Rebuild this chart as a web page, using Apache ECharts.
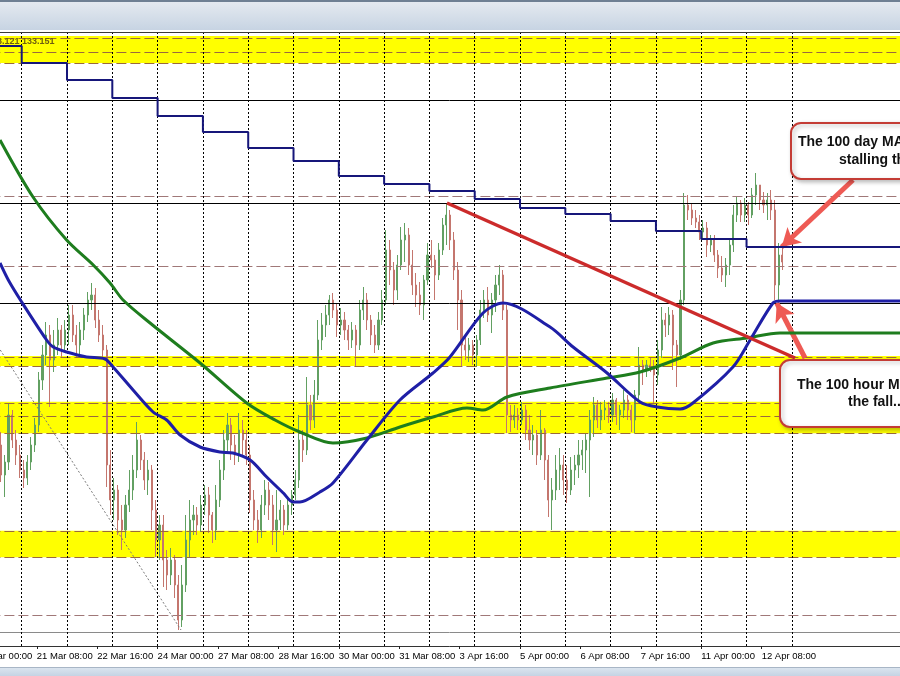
<!DOCTYPE html>
<html><head><meta charset="utf-8">
<script src="https://cdn.jsdelivr.net/npm/echarts@6/dist/echarts.min.js"></script>
<style>html,body{margin:0;padding:0;background:#fff}#c{width:900px;height:676px}</style>
</head><body><div id="c"></div>
<script>
// x axis: trading hours counted from 20 Mar 00:00 (weekends skipped), hourly chart
const tickLabels = ["20 Mar 00:00","21 Mar 08:00","22 Mar 16:00","24 Mar 00:00","27 Mar 08:00","28 Mar 16:00","30 Mar 00:00","31 Mar 08:00","3 Apr 16:00","5 Apr 00:00","6 Apr 08:00","7 Apr 16:00","11 Apr 00:00","12 Apr 08:00"];
const labelStepHours = 32;
const dayStarts = [24,48,72,96,120,144,168,192,216,240,264,288,312,336,360,384,408,432];
const firstBarHour = 13;   // 2-hour bars
const barHours = 2;
// [open, close, low, high]
const candles = [
[131.55,131.25,131.18,131.68],[131.25,131.38,131.03,131.45],[131.38,131.85,131.30,131.97],[131.85,131.60,131.52,131.90],
[131.60,131.45,131.35,131.70],[131.45,131.30,131.22,131.55],[131.30,131.22,131.12,131.40],[131.22,131.38,131.15,131.45],
[131.38,131.55,131.30,131.63],[131.55,131.75,131.48,131.82],[131.75,132.20,131.68,132.28],[132.20,132.45,132.10,132.55],
[132.45,132.65,132.35,132.78],[132.65,132.40,131.93,132.75],[132.40,132.55,132.28,132.70],[132.55,132.70,132.45,132.82],
[132.70,132.55,132.42,132.75],[132.55,132.70,132.48,132.80],[132.70,132.85,132.55,132.95],[132.85,132.65,132.58,132.95],
[132.65,132.55,132.43,132.75],[132.55,132.70,132.45,132.78],[132.70,132.85,132.60,132.92],[132.85,133.00,132.78,133.08],
[133.00,133.05,132.90,133.17],[133.05,132.80,132.72,133.12],[132.80,132.65,132.58,132.90],[132.65,132.50,132.42,132.75],
[132.50,131.35,131.13,132.55],[131.35,131.00,130.85,131.50],[131.00,131.10,130.80,131.22],[131.10,130.80,130.65,131.15],
[130.80,130.70,130.50,130.95],[130.70,130.95,130.62,131.05],[130.95,131.10,130.88,131.30],[131.10,131.30,131.00,131.45],
[131.30,131.60,131.22,131.78],[131.60,131.40,131.30,131.65],[131.40,131.20,131.10,131.48],[131.20,131.30,131.05,131.40],
[131.30,130.90,130.70,131.35],[130.90,130.60,130.43,131.00],[130.60,130.75,130.40,130.85],[130.75,130.40,130.13,130.85],
[130.40,130.25,130.10,130.50],[130.25,130.40,130.15,130.52],[130.40,130.15,130.02,130.45],[130.15,129.80,129.70,130.25],
[129.80,130.15,129.73,130.35],[130.15,130.60,130.08,130.85],[130.60,130.80,130.42,131.00],[130.80,130.85,130.65,130.95],
[130.85,130.75,130.65,130.93],[130.75,130.95,130.68,131.05],[130.95,131.05,130.85,131.15],[131.05,130.85,130.67,131.13],
[130.85,130.70,130.57,130.88],[130.70,131.00,130.60,131.15],[131.00,131.30,130.93,131.40],[131.30,131.60,131.20,131.70],
[131.60,131.75,131.48,131.87],[131.75,131.55,131.40,131.82],[131.55,131.45,131.35,131.65],[131.45,131.70,131.38,131.87],
[131.70,131.60,131.45,131.80],[131.60,131.45,131.35,131.70],[131.45,131.00,130.87,131.55],[131.00,130.80,130.70,131.10],
[130.80,130.70,130.57,130.90],[130.70,130.95,130.62,131.05],[130.95,131.10,130.85,131.20],[131.10,130.95,130.80,131.18],
[130.95,130.70,130.55,131.05],[130.70,130.80,130.48,131.10],[130.80,130.90,130.70,131.00],[130.90,130.75,130.65,130.95],
[130.75,130.95,130.70,131.03],[130.95,131.05,130.85,131.10],[131.05,131.20,131.00,131.30],[131.20,131.60,131.12,131.85],
[131.60,131.50,131.38,131.70],[131.50,131.95,131.45,132.23],[131.95,131.80,131.70,132.05],[131.80,132.05,131.72,132.20],
[132.05,132.60,132.00,132.80],[132.60,132.75,132.50,132.87],[132.75,132.85,132.63,132.95],[132.85,133.00,132.75,133.05],
[133.00,132.90,132.82,133.07],[132.90,132.75,132.63,132.97],[132.75,132.80,132.65,132.92],[132.80,132.70,132.60,132.88],
[132.70,132.60,132.50,132.75],[132.60,132.70,132.52,132.78],[132.70,132.55,132.33,132.75],[132.55,132.90,132.50,133.00],
[132.90,133.00,132.80,133.13],[133.00,132.80,132.70,133.07],[132.80,132.65,132.55,132.85],[132.65,132.55,132.47,132.75],
[132.55,132.80,132.50,132.88],[132.80,133.00,132.75,133.10],[133.00,133.50,132.95,133.70],[133.50,133.30,133.15,133.60],
[133.30,133.10,132.95,133.38],[133.10,133.35,133.00,133.45],[133.35,133.60,133.30,133.73],[133.60,133.65,133.38,133.77],
[133.65,133.35,133.25,133.72],[133.35,133.15,133.05,133.50],[133.15,133.05,132.93,133.27],[133.05,132.95,132.85,133.18],
[132.95,133.20,132.80,133.25],[133.20,133.45,133.15,133.57],[133.45,133.40,133.32,133.60],[133.40,133.25,133.00,133.45],
[133.25,133.50,133.20,133.57],[133.50,133.75,133.45,133.82],[133.75,133.85,133.55,133.97],[133.85,133.60,133.50,133.90],
[133.60,133.30,133.20,133.68],[133.30,133.00,132.70,133.38],[133.00,132.55,132.33,133.10],[132.55,132.50,132.40,132.65],
[132.50,132.55,132.38,132.62],[132.55,132.45,132.35,132.60],[132.45,132.60,132.33,132.65],[132.60,132.90,132.55,133.00],
[132.90,133.00,132.82,133.10],[133.00,132.85,132.78,133.13],[132.85,133.00,132.67,133.07],[133.00,133.15,132.88,133.25],
[133.15,133.25,133.05,133.35],[133.25,132.90,132.80,133.30],[132.90,131.85,131.67,132.95],[131.85,131.80,131.68,131.95],
[131.80,131.85,131.72,131.95],[131.85,131.80,131.70,131.92],[131.80,131.90,131.75,131.98],[131.90,131.70,131.60,131.95],
[131.70,131.60,131.50,131.85],[131.60,131.65,131.45,131.75],[131.65,131.45,131.35,131.70],[131.45,131.70,131.40,131.90],
[131.70,131.40,131.20,131.72],[131.40,131.00,130.83,131.45],[131.00,131.10,130.70,131.22],[131.10,131.30,131.00,131.45],
[131.30,131.35,131.10,131.52],[131.35,131.20,131.05,131.45],[131.20,131.10,130.97,131.35],[131.10,131.30,131.05,131.43],
[131.30,131.35,131.15,131.45],[131.35,131.45,131.22,131.60],[131.45,131.50,131.30,131.60],[131.50,131.60,131.27,131.67],
[131.60,131.80,131.03,131.90],[131.80,131.95,131.63,132.03],[131.95,131.80,131.72,132.00],[131.80,131.90,131.70,131.98],
[131.90,131.92,131.80,132.00],[131.92,131.85,131.77,131.98],[131.85,132.00,131.78,132.07],[132.00,131.85,131.75,132.02],
[131.85,131.90,131.70,131.95],[131.90,132.00,131.82,132.10],[132.00,131.90,131.80,132.05],[131.90,131.80,131.68,131.95],
[131.80,132.05,131.67,132.10],[132.05,132.35,132.00,132.53],[132.35,132.30,132.15,132.40],[132.30,132.35,132.23,132.40],
[132.35,132.32,132.28,132.42],[132.32,132.25,131.97,132.40],[132.25,132.50,132.15,132.60],[132.50,132.80,132.42,132.93],
[132.80,132.75,132.63,132.87],[132.75,132.85,132.65,132.93],[132.85,132.55,132.30,132.90],[132.55,132.45,132.13,132.60],
[132.45,133.00,132.40,133.10],[133.00,133.95,132.95,134.07],[133.95,133.90,133.80,134.05],[133.90,133.82,133.75,133.97],
[133.82,133.78,133.72,133.90],[133.78,133.68,133.60,133.85],[133.68,133.72,133.60,133.80],[133.72,133.55,133.43,133.78],
[133.55,133.60,133.48,133.65],[133.60,133.45,133.38,133.65],[133.45,133.32,133.22,133.50],[133.32,133.25,133.18,133.44],
[133.25,133.35,133.13,133.42],[133.35,133.55,133.25,133.60],[133.55,133.85,133.48,133.95],[133.85,133.97,133.78,134.03],
[133.97,133.85,133.78,134.00],[133.85,133.95,133.78,134.02],[133.95,133.85,133.75,133.98],[133.85,134.05,133.82,134.12],
[134.05,134.15,133.95,134.27],[134.15,134.00,133.90,134.15],[134.00,133.95,133.87,134.08],[133.95,134.00,133.80,134.07],
[134.00,133.90,133.80,134.10],[133.90,133.15,133.00,134.00],[133.15,133.45,132.98,133.57],[133.45,133.38,133.30,133.52]
];
// [hour, value]
const ma100Day = [[0,135.54],[24,135.37],[48,135.20],[72,135.02],[96,134.84],[120,134.68],[144,134.52],[168,134.39],[192,134.24],[216,134.16],[240,134.09],[264,134.01],[288,133.92],[312,133.86],[336,133.79],[360,133.69],[384,133.61],[408,133.53],[490,133.53]];
const ma100Hour = [[12.5,133.37],[16.9,133.20],[24.0,132.98],[37.2,132.60],[40.7,132.53],[47.8,132.48],[58.4,132.43],[68.1,132.41],[72.4,132.33],[83.0,132.10],[93.6,131.88],[100.8,131.80],[107.9,131.65],[118.5,131.53],[129.1,131.48],[135.9,131.47],[145.0,131.40],[153.8,131.23],[162.6,131.07],[167.7,130.98],[171.4,130.98],[182.0,131.08],[188.9,131.17],[206.9,131.60],[224.4,132.00],[241.9,132.27],[250.9,132.43],[268.4,132.87],[279.0,132.97],[303.9,132.73],[316.1,132.53],[334.1,132.27],[351.6,131.98],[360.6,131.93],[372.8,131.91],[379.6,131.97],[400.8,132.33],[409.9,132.60],[422.0,132.97],[425.7,132.99],[490,132.99]];
const ma200Hour = [[12.5,134.60],[30.0,134.03],[47.8,133.60],[61.9,133.35],[70.8,133.17],[77.7,133.00],[92.0,132.77],[118.5,132.37],[143.2,131.97],[158.2,131.80],[171.4,131.68],[188.9,131.57],[206.9,131.62],[224.4,131.73],[241.9,131.83],[259.9,131.92],[268.4,131.90],[281.1,132.03],[303.9,132.12],[334.1,132.22],[351.6,132.28],[372.8,132.42],[390.3,132.57],[408.3,132.62],[425.7,132.67],[490,132.67]];
const trendLine = [[249.3,133.97],[433.7,132.42]];
const channelLine = [[0,132.87],[108.4,129.70]];
const yellowBands = [[135.64,135.37],[132.44,132.34],[131.983,131.667],[130.693,130.427]];
const bandDashLevels = [135.623,135.483,135.373,132.425,132.345,131.973,131.843,131.673,130.69,130.427];
const dashLevels = [134.043,133.343,129.85];
const blackLevels = [134.995,133.975,132.967];
const greyLevels = [129.68];
const arrows = [[[464.4,134.20],[426.6,133.53]],[[439.0,132.42],[424.0,132.97]]];

const chart = echarts.init(document.getElementById('c'), null, {renderer:'canvas'});
const axisMax = 489.3;
const labelFont = "'Liberation Sans',Arial,sans-serif";
const boxFont = "bold 14px 'Liberation Sans', Arial, sans-serif";
const labelHours = tickLabels.map((_, i) => i * labelStepHours);

const levelMarks = [];
bandDashLevels.forEach(v=>levelMarks.push({yAxis:v, lineStyle:{color:'#9a6a3c', type:[10,4], width:1}}));
dashLevels.forEach(v=>levelMarks.push({yAxis:v, lineStyle:{color:'#a07878', type:[10,4], width:1}}));
blackLevels.forEach(v=>levelMarks.push({yAxis:v, lineStyle:{color:'#000', type:'solid', width:1}}));
greyLevels.forEach(v=>levelMarks.push({yAxis:v, lineStyle:{color:'#8a8a8a', type:'solid', width:1}}));
dayStarts.forEach(v=>levelMarks.push({xAxis:v, lineStyle:{color:'#000', type:[2,2], width:1}}));

const option = {
  animation:false,
  backgroundColor:'#ffffff',
  grid:{left:-23.6, right:0, top:33, bottom:30, containLabel:false, outerBoundsMode:'none'},
  xAxis:{type:'value', min:0, max:axisMax, interval:labelStepHours,
    axisLine:{show:true, lineStyle:{color:'#333', width:1}},
    axisTick:{show:true, length:3, lineStyle:{color:'#222'}, customValues:labelHours},
    axisLabel:{show:true, align:'left', margin:5, fontSize:9.5, fontFamily:labelFont, color:'#000',
      hideOverlap:false, showMinLabel:true, customValues:labelHours,
      formatter:(v)=>{const i=Math.round(v/labelStepHours); return (Math.abs(v-labelStepHours*i)<0.01 && tickLabels[i])?tickLabels[i]:'';}},
    splitLine:{show:false}},
  yAxis:{type:'value', min:129.54, max:135.67, show:false, splitLine:{show:false}},
  series:[
    {type:'line', data:[], z:1, silent:true,
      markArea:{silent:true, itemStyle:{color:'#ffff00', opacity:1}, data:yellowBands.map(b=>[{yAxis:b[0]},{yAxis:b[1]}])}},
    {type:'line', data:[], z:2, silent:true,
      markLine:{silent:true, symbol:['none','none'], label:{show:false}, animation:false, data:levelMarks}},
    {type:'candlestick', z:3, barWidth:1.6,
      data:candles.map((d,i)=>[firstBarHour+barHours*i, d[0], d[1], d[2], d[3]]),
      itemStyle:{color:'#62a062', color0:'#c4766e', borderColor:'#62a062', borderColor0:'#c4766e', borderWidth:1}},
    {type:'line', z:4, data:channelLine, showSymbol:false, silent:true, lineStyle:{color:'#7a7a7a', width:1, type:[2,2]}},
    {type:'line', z:5, data:ma200Hour, showSymbol:false, smooth:0.3, silent:true, lineStyle:{color:'#1e7d1e', width:3}},
    {type:'line', z:5, data:ma100Hour, showSymbol:false, smooth:0.3, silent:true, lineStyle:{color:'#1f1fa6', width:3}},
    {type:'line', z:5, data:ma100Day, step:'end', showSymbol:false, silent:true, lineStyle:{color:'#16167a', width:2}},
    {type:'line', z:6, data:trendLine, showSymbol:false, silent:true, lineStyle:{color:'#cc2b2b', width:3.5}},
    {type:'line', data:[], z:9, silent:true,
      markLine:{silent:true, symbol:['none','arrow'], symbolSize:[16,18], label:{show:false}, animation:false,
        lineStyle:{color:'#ee5a54', width:5, type:'solid'},
        data:arrows.map(a=>[{coord:a[0]},{coord:a[1]}])}}
  ],
  graphic:[
    {type:'rect', z:50, shape:{x:0,y:0,width:900,height:31}, style:{fill:{type:'linear',x:0,y:0,x2:0,y2:1,colorStops:[{offset:0,color:'#e6ebf1'},{offset:1,color:'#c6d3e2'}]}}},
    {type:'rect', z:51, shape:{x:0,y:0,width:900,height:2}, style:{fill:'#6f8093'}},
    {type:'rect', z:51, shape:{x:0,y:30,width:900,height:1.5}, style:{fill:'#ffffff'}},
    {type:'rect', z:51, shape:{x:0,y:32,width:900,height:1}, style:{fill:'#3a3a3a'}},
    {type:'rect', z:50, shape:{x:0,y:667,width:900,height:9}, style:{fill:{type:'linear',x:0,y:0,x2:0,y2:1,colorStops:[{offset:0,color:'#dde6f0'},{offset:1,color:'#c5d3e3'}]}}},
    {type:'rect', z:51, shape:{x:0,y:667,width:900,height:1}, style:{fill:'#a8b6c6'}},
    {type:'text', z:60, x:-13, y:41.5, style:{text:'133.121 133.151', font:"bold 9px 'Liberation Sans', Arial, sans-serif", fill:'#6e5e10', verticalAlign:'middle'}},
    {type:'rect', z:70, shape:{x:791,y:123,width:260,height:56,r:10}, style:{fill:'#ffffff', stroke:'#c43c35', lineWidth:2, shadowBlur:4, shadowColor:'rgba(0,0,0,0.25)', shadowOffsetX:2, shadowOffsetY:2}},
    {type:'text', z:71, x:798, y:142, style:{text:'The 100 day MA is', font:boxFont, fill:'#111', verticalAlign:'middle'}},
    {type:'text', z:71, x:839, y:160, style:{text:'stalling the rise', font:boxFont, fill:'#111', verticalAlign:'middle'}},
    {type:'rect', z:70, shape:{x:780,y:360,width:260,height:67,r:10}, style:{fill:'#ffffff', stroke:'#c43c35', lineWidth:2, shadowBlur:4, shadowColor:'rgba(0,0,0,0.25)', shadowOffsetX:2, shadowOffsetY:2}},
    {type:'text', z:71, x:797, y:385, style:{text:'The 100 hour MA stalled', font:boxFont, fill:'#111', verticalAlign:'middle'}},
    {type:'text', z:71, x:848, y:402, style:{text:'the fall...', font:boxFont, fill:'#111', verticalAlign:'middle'}}
  ]
};
chart.setOption(option);
</script></body></html>
